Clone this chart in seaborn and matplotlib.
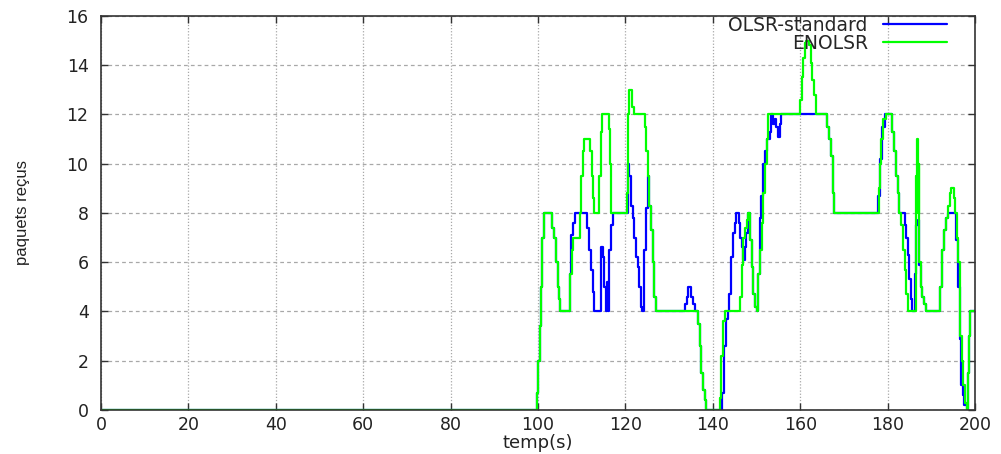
import matplotlib
matplotlib.use("Agg")
import matplotlib.pyplot as plt
import seaborn as sns
import pandas as pd

# breakpoints (time in s, packets), drawn as steps
enolsr_t = [0, 99.7, 100.1, 100.4, 100.7, 101.0, 101.4, 103.3, 103.7, 104.1, 104.5, 104.9, 105.1,
            107.3, 107.7, 108.1, 109.5, 109.8, 110.2, 110.6, 112.0, 112.3, 112.6, 112.9, 113.9,
            114.3, 114.7, 116.2, 116.5, 116.8, 120.3, 120.6, 120.9, 121.4, 121.9, 124.4, 124.7,
            125.1, 125.5, 125.8, 126.2, 126.6, 126.9, 136.6, 137.0, 137.4, 137.7, 138.1, 138.5,
            141.6, 141.9, 142.3, 142.7, 146.2, 146.6, 147.0, 147.4, 147.8, 148.1, 148.5, 148.9,
            149.3, 149.7, 150.0, 150.4, 150.8, 151.2, 151.6, 152.0, 152.3, 152.7, 159.9, 160.3,
            160.7, 161.1, 161.4, 162.0, 162.4, 162.8, 163.2, 163.6, 166.2, 166.6, 167.0, 167.4,
            167.8, 178.0, 178.3, 178.6, 179.0, 179.6, 181.1, 181.5, 181.9, 182.3, 182.7, 183.1,
            183.5, 183.9, 184.3, 184.7, 186.4, 186.7, 186.9, 187.1, 187.3, 187.6, 187.9, 188.3,
            188.7, 192.1, 192.5, 193.0, 193.4, 193.8, 194.2, 194.6, 195.1, 195.5, 195.9, 196.2,
            196.6, 197.0, 197.3, 197.7, 198.1, 198.4, 198.6, 198.9, 200]
enolsr_v = [0, 0.7, 2, 3.4, 5, 7, 8, 7.4, 7, 6, 5, 4.5, 4,
            5.5, 6.5, 7, 8, 9.5, 10.5, 11, 10.5, 9.5, 8.6, 8, 9.5,
            11.3, 12, 11.4, 10, 8, 8.8, 12, 13, 12.3, 12, 11.5, 10.5,
            9.5, 8.3, 7.3, 6, 4.6, 4, 3.5, 2.6, 1.5, 0.8, 0.4, 0,
            0.5, 2.2, 3.6, 4, 4.6, 5.9, 7, 7.4, 7.7, 8, 6.9, 5.8,
            4.7, 4.2, 4, 5.5, 6.5, 7.6, 8.8, 10, 11, 12, 12.6, 13.5,
            14.3, 14.9, 15, 14.8, 14.1, 13.4, 12.8, 12, 11.5, 11, 10.3, 8.8,
            8, 9, 10, 11, 11.8, 12, 11.3, 10.5, 9.5, 8.8, 8, 7.5,
            6.5, 5.7, 4.7, 4, 9.5, 11, 8, 10, 6, 5, 4.6, 4.3,
            4, 5, 6.5, 7.3, 7.8, 8.3, 8.8, 9, 8.6, 8, 7, 6,
            3, 2, 1, 0.3, 0, 1.5, 3, 4, 4]

olsr_t = [0, 99.7, 100.1, 100.4, 100.7, 101.0, 101.4, 103.3, 103.7, 104.1, 104.5, 104.9, 105.1,
          107.3, 107.6, 108.0, 108.5, 111.3, 111.7, 112.1, 112.5, 112.9, 114.3, 114.8, 115.2,
          115.5, 115.8, 116.0, 116.3, 116.7, 117.1, 120.5, 120.9, 121.3, 121.7, 122.0, 122.4,
          122.8, 123.2, 123.6, 123.9, 124.3, 124.7, 125.1, 125.5, 125.8, 126.2, 126.6, 126.9,
          133.6, 134.0, 134.4, 135.1, 135.5, 135.9, 136.6, 137.0, 137.4, 137.7, 138.1, 138.5,
          142.1, 142.5, 143.0, 143.4, 143.8, 144.2, 144.6, 145.0, 145.4, 145.9, 146.3, 146.6,
          146.9, 147.3, 147.7, 148.1, 148.5, 148.9, 149.3, 149.7, 150.0, 150.4, 150.7, 151.1,
          151.5, 151.9, 152.3, 153.0, 153.4, 153.8, 154.2, 154.5, 154.9, 155.3, 155.7, 166.2,
          166.6, 167.0, 167.4, 167.8, 177.8, 178.2, 178.8, 179.3, 181.1, 181.5, 181.9, 182.3,
          182.7, 183.9, 184.3, 184.7, 185.0, 185.4, 185.7, 186.2, 186.6, 187.0, 187.3, 187.6,
          187.9, 188.3, 188.7, 192.1, 192.5, 193.0, 193.4, 193.8, 195.7, 196.1, 196.5, 196.9,
          197.3, 197.6, 198.1, 198.4, 198.6, 198.9, 200]
olsr_v = [0, 0.7, 2, 3.4, 5, 7, 8, 7.4, 7, 6, 5, 4.5, 4,
          5.5, 7.1, 7.6, 8, 7.4, 6.5, 5.7, 4.8, 4, 6.6, 6.2, 5,
          4, 5.2, 4, 6.5, 7.5, 8, 10, 9.5, 8.3, 7.8, 7, 6.2,
          5.8, 5, 4.2, 4, 6.5, 8.2, 9.5, 8.3, 7.3, 6, 4.6, 4,
          4.3, 4.6, 5, 4.6, 4.3, 4, 3.5, 2.6, 1.5, 0.8, 0.4, 0,
          0.7, 2.6, 3.7, 4, 4.7, 6.2, 7.2, 7.6, 8, 7.6, 7, 6.6,
          6.1, 6.6, 7.2, 8, 6.9, 5.8, 4.7, 4.2, 4, 5.5, 7.8, 8.7,
          10, 10.5, 11, 11.3, 12, 11.6, 11.8, 11.5, 11.1, 11.6, 12, 11.5,
          11, 10.3, 8.8, 8, 8.7, 10.2, 11.5, 12, 11.3, 10.5, 9.5, 8.8,
          8, 7.5, 7, 6.3, 5.3, 4.5, 4, 5.5, 7.5, 7.7, 5.9, 5,
          4.6, 4.3, 4, 5, 6.5, 7.3, 7.8, 8, 6.9, 5, 2.9, 1,
          0.6, 0.2, 0, 1.5, 3, 4, 4]

x_ticks = list(range(0, 201, 20))
y_ticks = list(range(0, 17, 2))

df = pd.concat([
    pd.DataFrame({"t": olsr_t, "v": olsr_v, "protocole": "OLSR-standard"}),
    pd.DataFrame({"t": enolsr_t, "v": enolsr_v, "protocole": "ENOLSR"}),
])

sns.set_style("ticks")
plt.rcParams["font.family"] = ["DejaVu Sans"]

fig = plt.figure(figsize=(10.01, 4.54), dpi=100)
ax = fig.add_axes([0.101, 0.097, 0.873, 0.868])

sns.lineplot(data=df, x="t", y="v", hue="protocole", estimator=None, sort=False,
             drawstyle="steps-post", linewidth=1.6,
             palette={"OLSR-standard": "#0000ff", "ENOLSR": "#00ff00"}, ax=ax)

ax.set_xlim(0, 200)
ax.set_ylim(0, 16)
ax.set_xticks(x_ticks)
ax.set_yticks(y_ticks)
ax.tick_params(direction="in", top=True, right=True, length=5, width=1, labelsize=12.5,
               colors="#333333", labelcolor="#222222")
ax.tick_params(axis="y", pad=9)
ax.tick_params(axis="x", pad=4)
ax.xaxis.grid(True, color="#a8a8a8", linestyle=(0, (1, 1.5)), linewidth=0.9)
ax.yaxis.grid(True, color="#a8a8a8", linestyle=(0, (3, 2.5)), linewidth=0.9)
for s in ax.spines.values():
    s.set_color("#333333")
    s.set_linewidth(1.2)

ax.set_xlabel("temp(s)", fontsize=13, color="#222222", labelpad=0)
ax.set_ylabel("paquets reçus", fontsize=12, color="#222222", labelpad=26,
              family=["Liberation Sans"])

leg = ax.legend(loc="upper right", frameon=False, markerfirst=False, fontsize=13.5,
                handlelength=3.4, handletextpad=0.8, labelspacing=-0.05,
                borderaxespad=0.0, bbox_to_anchor=(0.976, 1.02))
for line in leg.get_lines():
    line.set_linewidth(1.6)

fig.savefig("out.png", dpi=100)
